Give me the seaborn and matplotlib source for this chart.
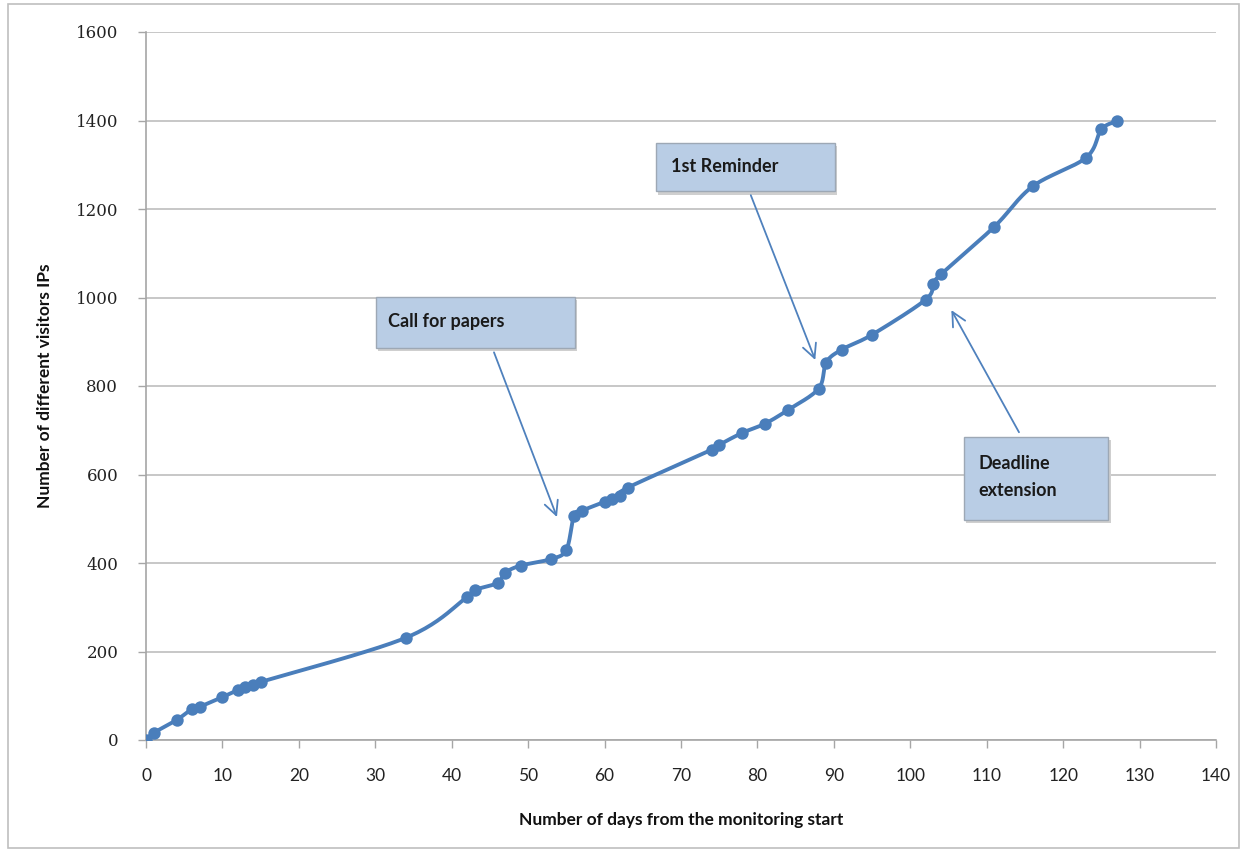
import numpy as np
import pandas as pd
import matplotlib
matplotlib.use("Agg")
import matplotlib.pyplot as plt
from matplotlib.patches import Rectangle, FancyArrowPatch
import seaborn as sns

# ---- data ----
days = [0, 1, 4, 6, 7, 10, 12, 13, 14, 15, 34, 42, 43, 46, 47, 49, 53, 55, 56, 57,
        60, 61, 62, 63, 74, 75, 78, 81, 84, 88, 89, 91, 95, 102, 103, 104, 111, 116,
        123, 125, 127]
visitors = [0, 16, 45, 70, 75, 97, 113, 120, 124, 131, 231, 323, 339, 355, 378, 394,
            409, 430, 507, 518, 538, 545, 552, 570, 656, 667, 694, 715, 746, 794, 853,
            882, 916, 995, 1031, 1052, 1160, 1251, 1316, 1380, 1398]
x_ticks = list(range(0, 141, 10))
y_ticks = list(range(0, 1601, 200))
x_label = "Number of days from the monitoring start"
y_label = "Number of different visitors IPs"
notes = ["Call for papers", "1st Reminder", "Deadline\nextension"]

df = pd.DataFrame({"day": days, "visitors": visitors})

sns.set_theme(style="white")
plt.rcParams["font.family"] = ["Lato", "DejaVu Sans"]

LINE = "#4A7EBB"
fig = plt.figure(figsize=(12.43, 8.52), dpi=100)
ax = fig.add_axes([146 / 1243, 1 - 740 / 852, (1216 - 146) / 1243, (740 - 32) / 852])

# smooth (Excel-like) curve through the points, computed in screen-proportional units
sx, sy = 7.643, 0.4421
P = np.column_stack([np.array(days, float) * sx, np.array(visitors, float) * sy])
curve = []
n = len(P)
for i in range(n - 1):
    p0 = P[i - 1] if i > 0 else P[i]
    p1, p2 = P[i], P[i + 1]
    p3 = P[i + 2] if i + 2 < n else P[i + 1]
    c1 = p1 + (p2 - p0) / 6.0
    c2 = p2 - (p3 - p1) / 6.0
    t = np.linspace(0, 1, 25)[:, None]
    seg = ((1 - t) ** 3) * p1 + 3 * ((1 - t) ** 2) * t * c1 + 3 * (1 - t) * t ** 2 * c2 + t ** 3 * p2
    curve.append(seg if i == 0 else seg[1:])
curve = np.vstack(curve)
ax.plot(curve[:, 0] / sx, curve[:, 1] / sy, color=LINE, lw=2.8, solid_capstyle="round", zorder=3)

sns.scatterplot(data=df, x="day", y="visitors", ax=ax, color=LINE, s=80,
                edgecolor=LINE, linewidth=0, zorder=4, legend=False)

ax.set_xlim(0, 140)
ax.set_ylim(0, 1600)
ax.set_xticks(x_ticks)
ax.set_yticks(y_ticks)
ax.set_xticklabels([str(v) for v in x_ticks], fontsize=12.5, color="#222222")
ax.set_yticklabels([str(v) for v in y_ticks], fontsize=12, color="#222222",
                   family=["DejaVu Serif"])
ax.grid(axis="y", color="#BDBDBD", lw=1.2)
ax.grid(axis="x", visible=False)
for s in ["top", "right"]:
    ax.spines[s].set_visible(False)
for s in ["left", "bottom"]:
    ax.spines[s].set_color("#A6A6A6")
    ax.spines[s].set_linewidth(1.2)
ax.tick_params(axis="both", direction="out", length=6, width=1.0, color="#A6A6A6",
               bottom=True, left=True)
ax.tick_params(axis="x", pad=14)
ax.tick_params(axis="y", pad=14)
ax.set_xlabel(x_label, fontsize=12.5, fontweight="bold", labelpad=20, color="#111111")
ax.set_ylabel(y_label, fontsize=12.5, fontweight="bold", labelpad=16, color="#111111")
ax.set_axisbelow(True)

BOX = "#B9CDE5"
def box(x0, x1, y0, y1):
    sh = Rectangle((x0 + 0.3, y0 - 8), x1 - x0, y1 - y0, facecolor="#CFCFCF",
                   edgecolor="none", zorder=5, clip_on=False)
    ax.add_patch(sh)
    r = Rectangle((x0, y0), x1 - x0, y1 - y0, facecolor=BOX, edgecolor="#9DA8B5",
                  lw=1.0, zorder=6, clip_on=False)
    ax.add_patch(r)

def arrow(tail, head):
    a = FancyArrowPatch(tail, head, arrowstyle="->,head_length=10,head_width=5",
                        color="#4F81BD", lw=1.3, zorder=7, mutation_scale=1)
    ax.add_patch(a)

# Call for papers
box(30.1, 56.1, 887, 1002)
ax.text(31.6, 945, notes[0], fontsize=13, fontweight="bold", color="#1a1a1a",
        va="center", ha="left", zorder=8)
arrow((45.4, 882), (53.9, 498))

# 1st reminder
box(66.7, 90.1, 1240, 1350)
ax.text(68.7, 1296, notes[1], fontsize=13, fontweight="bold", color="#1a1a1a",
        va="center", ha="left", zorder=8)
arrow((79.0, 1237), (87.7, 853))

# Deadline extension
box(107.0, 125.9, 498, 685)
ax.text(108.9, 594, notes[2], fontsize=13, fontweight="bold", color="#1a1a1a",
        va="center", ha="left", zorder=8, linespacing=1.75)
arrow((114.4, 690), (105.2, 977))

# outer chart frame
fig.patches.append(Rectangle((8 / 1243, 4 / 852), 1 - 12 / 1243, 1 - 8 / 852,
                             transform=fig.transFigure, fill=False,
                             edgecolor="#BFBFBF", lw=1.2))

fig.savefig("out.png", dpi=100)
